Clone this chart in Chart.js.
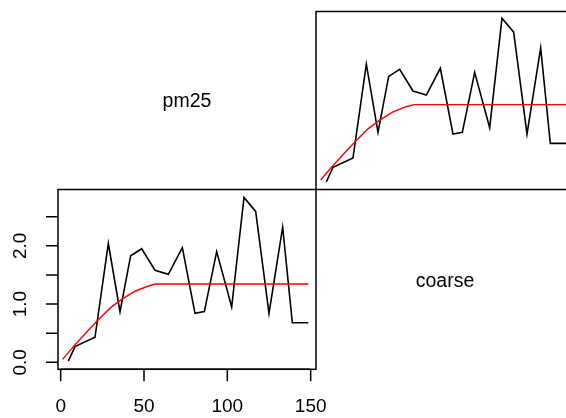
<!DOCTYPE html>
<html>
<head>
<meta charset="utf-8">
<script src="https://cdn.jsdelivr.net/npm/chart.js@4/dist/chart.umd.min.js"></script>
<style>
html, body { margin: 0; padding: 0; background: #fff; overflow: hidden; width: 566px; height: 418px; }
canvas { position: absolute; left: 0; top: 0; }
.lbl { position: absolute; font: 19.5px "Liberation Sans", Arial, sans-serif; line-height: 1; color: #000;
       transform: translate(-50%, -50%); white-space: nowrap; }
</style>
</head>
<body>
<canvas id="lower" width="566" height="418"></canvas>
<canvas id="upper" width="580" height="418"></canvas>
<div class="lbl" style="left:187px;top:101px">pm25</div>
<div class="lbl" style="left:445px;top:281px">coarse</div>
<script>
// sample variogram (distance, semivariance)
const lagDist = [4.6, 8.6, 20.6, 28.6, 35.6, 42, 48.6, 56.6, 64.6, 73, 80.6, 86.2, 93.6, 102.6, 110, 117, 125, 133.2, 139, 148.6];
const gamma   = [0.02, 0.27, 0.43, 2.04, 0.87, 1.83, 1.95, 1.58, 1.51, 1.97, 0.84, 0.87, 1.90, 0.95, 2.83, 2.59, 0.84, 2.32, 0.68, 0.68];
// fitted model curve
const modelDist  = [1.2, 5, 8.6, 12.5, 16.6, 22.6, 29.6, 36.6, 44.6, 52.6, 57, 148.6];
const modelGamma = [0.05, 0.18, 0.30, 0.42, 0.55, 0.73, 0.93, 1.08, 1.22, 1.31, 1.345, 1.345];
// axis ticks
const xTicks = [0, 50, 100, 150];
const yTicks = [0, 0.5, 1, 1.5, 2, 2.5];
const yTickLabels = ['0.0', '', '1.0', '', '2.0', ''];

const FONT = '19px "Liberation Sans", Arial, sans-serif';

const rBox = {
    id: 'rBox',
    afterDraw(chart, args, opts) {
        const { ctx, chartArea: a, scales: { x, y } } = chart;
        ctx.save();
        ctx.strokeStyle = '#000';
        ctx.lineWidth = 1.5;
        ctx.strokeRect(a.left, a.top, a.right - a.left, a.bottom - a.top);
        if (opts.axes) {
            ctx.beginPath();
            xTicks.forEach(v => {
                const px = x.getPixelForValue(v);
                ctx.moveTo(px, a.bottom); ctx.lineTo(px, a.bottom + 12);
            });
            ctx.moveTo(x.getPixelForValue(xTicks[0]), a.bottom);
            ctx.lineTo(x.getPixelForValue(xTicks[xTicks.length - 1]), a.bottom);
            yTicks.forEach(v => {
                const py = y.getPixelForValue(v);
                ctx.moveTo(a.left, py); ctx.lineTo(a.left - 12, py);
            });
            ctx.stroke();

            ctx.fillStyle = '#000';
            ctx.font = FONT;
            ctx.textAlign = 'center';
            ctx.textBaseline = 'alphabetic';
            xTicks.forEach(v => ctx.fillText(String(v), x.getPixelForValue(v), a.bottom + 43));
            yTicks.forEach((v, i) => {
                if (!yTickLabels[i]) return;
                ctx.save();
                ctx.translate(a.left - 32, y.getPixelForValue(v));
                ctx.rotate(-Math.PI / 2);
                ctx.fillText(yTickLabels[i], 0, 0);
                ctx.restore();
            });
        }
        ctx.restore();
    }
};

function makePanel(id, pad, yMin, yMax, axes) {
    return new Chart(document.getElementById(id), {
        type: 'scatter',
        data: {
            datasets: [
                { data: modelDist.map((d, i) => ({ x: d, y: modelGamma[i] })), showLine: true,
                  borderColor: '#ff0000', borderWidth: 1.4, pointRadius: 0, tension: 0 },
                { data: lagDist.map((d, i) => ({ x: d, y: gamma[i] })), showLine: true,
                  borderColor: '#000', borderWidth: 1.6, pointRadius: 0, tension: 0 }
            ]
        },
        options: {
            responsive: false, animation: false, events: [],
            layout: { padding: pad },
            plugins: { legend: { display: false }, tooltip: { enabled: false }, rBox: { axes: axes } },
            scales: {
                x: { type: 'linear', display: false, min: -1.6, max: 153.2 },
                y: { type: 'linear', display: false, min: yMin, max: yMax }
            }
        },
        plugins: [rBox]
    });
}

makePanel('lower', { left: 58, top: 189.5, right: 250, bottom: 48.7 }, -0.12, 2.967, true);
makePanel('upper', { left: 316, top: 11.5, right: 6, bottom: 228.5 }, -0.112, 2.945, false);
</script>
</body>
</html>
